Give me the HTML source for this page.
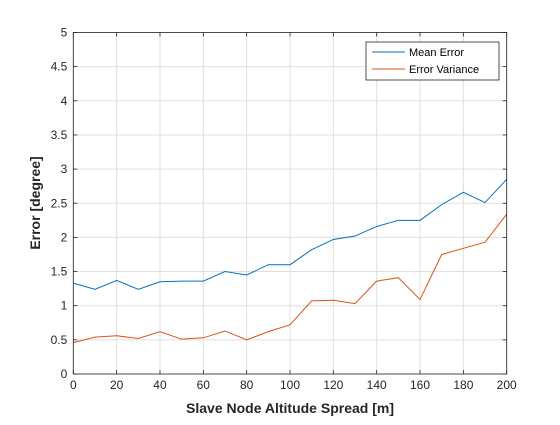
<!DOCTYPE html>
<html><head><meta charset="utf-8"><style>
body{margin:0;background:#fff;}
svg text{font-family:"Liberation Sans",Arial,sans-serif;}
</style></head><body>
<svg width="560" height="420" xmlns="http://www.w3.org/2000/svg">
<rect x="0" y="0" width="560" height="420" fill="#fff"/>
<g id="grid"></g>
<g id="series"></g>
<g id="axes"></g>
<text x="290" y="413" text-anchor="middle" font-size="14" font-weight="bold" fill="#262626">Slave Node Altitude Spread [m]</text>
<text transform="translate(40,203) rotate(-90)" text-anchor="middle" font-size="14" font-weight="bold" fill="#262626">Error [degree]</text>
<g>
<rect x="366" y="42" width="133" height="38" fill="#fff" stroke="#262626" stroke-width="0.8"/>
<g>
<line x1="372" y1="52" x2="405" y2="52" stroke="#0072BD" stroke-width="1"/>
<text x="409" y="56" font-size="11" fill="#000">Mean Error</text></g>
<g>
<line x1="372" y1="69" x2="405" y2="69" stroke="#D95319" stroke-width="1"/>
<text x="409" y="73" font-size="11" fill="#000">Error Variance</text></g>
</g>
</svg>
<script>
const xValues=[0,10,20,30,40,50,60,70,80,90,100,110,120,130,140,150,160,170,180,190,200];
const meanError=[1.33,1.24,1.37,1.24,1.35,1.36,1.36,1.50,1.45,1.60,1.60,1.82,1.97,2.02,2.16,2.25,2.25,2.48,2.66,2.51,2.85];
const errorVariance=[0.46,0.54,0.56,0.52,0.62,0.51,0.53,0.63,0.50,0.62,0.72,1.07,1.08,1.03,1.36,1.41,1.09,1.75,1.84,1.93,2.34];
const xTicks=[0,20,40,60,80,100,120,140,160,180,200];
const yTicks=[0,0.5,1,1.5,2,2.5,3,3.5,4,4.5,5];
const L=73.3,R=506.7,T=32.5,B=374;
const xs=v=>L+(v-0)/200*(R-L);
const ys=v=>B-(v/5)*(B-T);
const NS="http://www.w3.org/2000/svg";
function mk(tag,attrs,parent){const e=document.createElementNS(NS,tag);for(const k in attrs)e.setAttribute(k,attrs[k]);parent.appendChild(e);return e;}
const grid=document.getElementById('grid'),axes=document.getElementById('axes'),ser=document.getElementById('series');
xTicks.forEach(t=>{
 const g=mk('line',{x1:xs(t),x2:xs(t),y1:T,y2:B,stroke:'#dfdfdf','stroke-width':1},grid);
 
 
 mk('line',{x1:xs(t),x2:xs(t),y1:B,y2:B-4,stroke:'#262626','stroke-width':0.8},axes);
 mk('line',{x1:xs(t),x2:xs(t),y1:T,y2:T+4,stroke:'#262626','stroke-width':0.8},axes);
 const tx=mk('text',{x:xs(t),y:B+15,'text-anchor':'middle','font-size':12,fill:'#262626'},axes);
 tx.textContent=t;
 
 
});
yTicks.forEach(t=>{
 const g=mk('line',{x1:L,x2:R,y1:ys(t),y2:ys(t),stroke:'#dfdfdf','stroke-width':1},grid);
 
 
 mk('line',{x1:L,x2:L+4,y1:ys(t),y2:ys(t),stroke:'#262626','stroke-width':0.8},axes);
 mk('line',{x1:R,x2:R-4,y1:ys(t),y2:ys(t),stroke:'#262626','stroke-width':0.8},axes);
 const tx=mk('text',{x:L-6,y:ys(t)+4,'text-anchor':'end','font-size':12,fill:'#262626'},axes);
 tx.textContent=t;
 
 
});
const box=mk('rect',{x:L,y:T,width:R-L,height:B-T,fill:'none',stroke:'#262626','stroke-width':0.8},axes);


function line(vals,color,name){
 const p=mk('polyline',{points:vals.map((v,i)=>xs(xValues[i])+','+ys(v)).join(' '),fill:'none',stroke:color,'stroke-width':1},ser);
 
 
}
line(meanError,'#0072BD','mean-error-line');
line(errorVariance,'#D95319','error-variance-line');
</script>
</body></html>
